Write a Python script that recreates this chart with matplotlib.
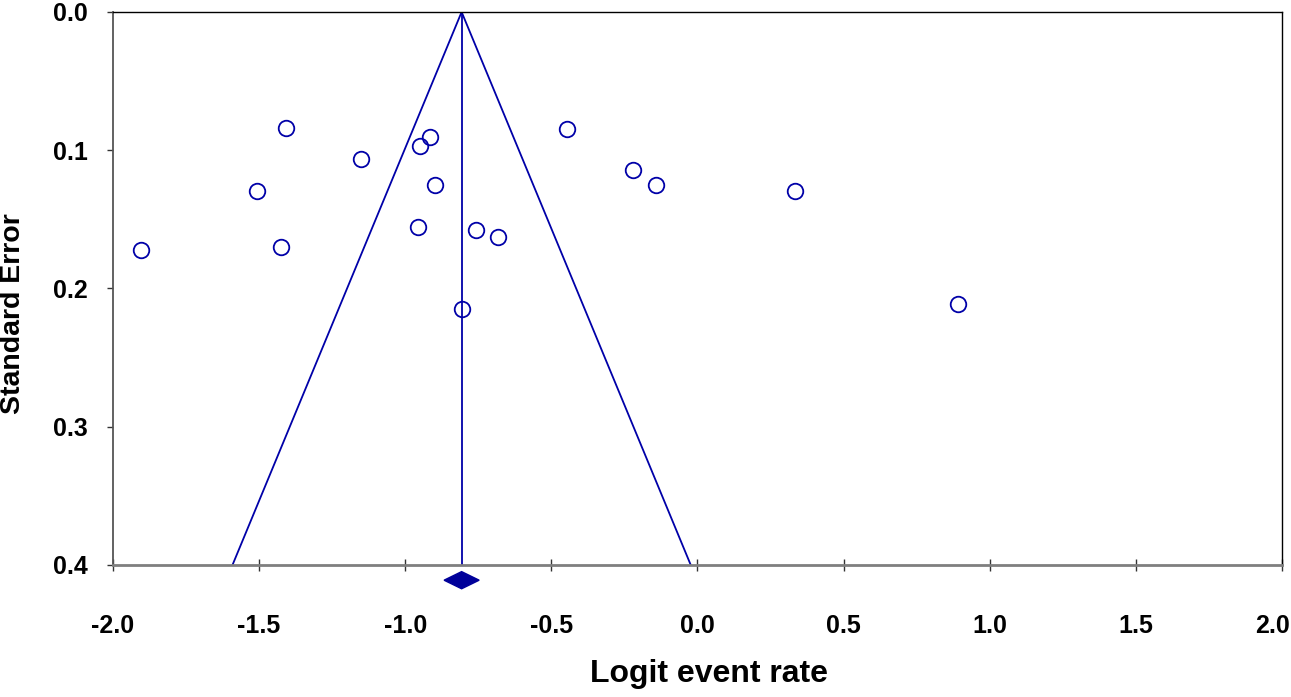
import numpy as np
import matplotlib.pyplot as plt
import matplotlib.transforms as mtransforms
from matplotlib.patches import Polygon

plt.rcParams['font.family'] = ['Liberation Sans', 'DejaVu Sans']
plt.rcParams['font.weight'] = 'bold'

# study points
logit = [-1.905, -1.409, -1.508, -1.426, -1.150, -0.951, -0.914, -0.899,
         -0.957, -0.807, -0.757, -0.683, -0.447, -0.221, -0.142, 0.334, 0.891]
se = [0.1724, 0.0841, 0.1297, 0.1702, 0.1061, 0.0967, 0.0904, 0.1249,
      0.1557, 0.2146, 0.1577, 0.1627, 0.0846, 0.1143, 0.1251, 0.1295, 0.2112]

# summary estimate and its CI (diamond)
mean_est = -0.807
ci_low, ci_high = -0.867, -0.747
se_max = 0.4

xticks = [-2.0, -1.5, -1.0, -0.5, 0.0, 0.5, 1.0, 1.5, 2.0]
yticks = [0.0, 0.1, 0.2, 0.3, 0.4]

blue = '#0000a8'

fig = plt.figure(figsize=(12.91, 6.97), dpi=100)
ax = fig.add_axes([0.0875, 0.1894, 0.9055, 0.7934])

# funnel
ax.plot([mean_est - 1.96 * se_max, mean_est, mean_est + 1.96 * se_max],
        [se_max, 0.0, se_max], color=blue, lw=1.3)
ax.plot([mean_est, mean_est], [0.0, se_max], color=blue, lw=1.3)

ax.plot(logit, se, 'o', ms=11.2, mfc='none', mec=blue, mew=1.3)

# summary diamond below the axis
yd = 0.411
dh = 0.0062
dia = Polygon([[ci_low, yd], [mean_est, yd - dh], [ci_high, yd], [mean_est, yd + dh]],
              closed=True, facecolor='#00009a', edgecolor='#00009a', clip_on=False)
ax.add_patch(dia)

ax.set_xlim(-2.0, 2.0)
ax.set_ylim(0.4, 0.0)
ax.set_xticks(xticks)
ax.set_yticks(yticks)
ax.set_xticklabels(['%.1f' % v for v in xticks])
ax.set_yticklabels(['%.1f' % v for v in yticks])

ax.tick_params(axis='x', direction='inout', length=8, width=1, pad=31, labelsize=18, color='#333333')
ax.tick_params(axis='y', direction='out', length=4, width=1, pad=14, labelsize=18, color='#333333')

# last x label sits at the right edge, nudge it in a bit
lab = ax.get_xticklabels()[-1]
lab.set_transform(lab.get_transform() + mtransforms.ScaledTranslation(-0.09, 0, fig.dpi_scale_trans))

for s in ['top', 'right']:
    ax.spines[s].set_linewidth(1.0)
    ax.spines[s].set_color('black')
ax.spines['bottom'].set_color('#7f7f7f')
ax.spines['bottom'].set_linewidth(2.0)
ax.spines['left'].set_color('#555555')
ax.spines['left'].set_linewidth(1.3)

ax.set_xlabel('Logit event rate', fontsize=23, fontweight='bold')
ax.xaxis.set_label_coords(0.51, -0.17)
ax.set_ylabel('Standard Error', fontsize=20.5, fontweight='bold')
ax.yaxis.set_label_coords(-0.074, 0.455)

fig.savefig('out.png', dpi=100)
